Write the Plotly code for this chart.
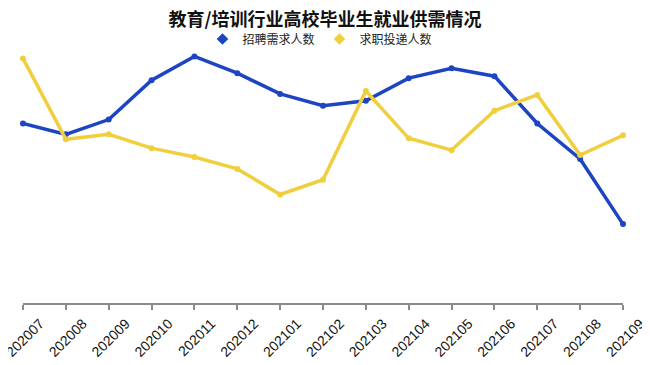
import plotly.graph_objects as go

months = ["202007", "202008", "202009", "202010", "202011", "202012", "202101",
          "202102", "202103", "202104", "202105", "202106", "202107", "202108", "202109"]
demand = [182, 171, 186, 226, 250, 233, 212, 200, 205, 228, 238, 230, 182, 146, 80]
applications = [248, 166, 171, 157, 148, 136, 110, 125, 215, 167, 155, 195, 211, 150, 170]

BLUE = "#1d45c2"
YELLOW = "#f0cf3f"
CJK = "Noto Sans CJK SC"

# page has an 8px body margin; figure is sized to fill the rest of the 650x365 view
W, H, OFF = 642, 357, 8

fig = go.Figure()
for name, vals, col in [("招聘需求人数", demand, BLUE), ("求职投递人数", applications, YELLOW)]:
    fig.add_trace(go.Scatter(x=months, y=vals, name=name, mode="lines+markers",
                             line=dict(color=col, width=3.5), marker=dict(size=6, color=col),
                             cliponaxis=False, showlegend=False))
    fig.add_trace(go.Scatter(x=[None], y=[None], name=name, mode="markers",
                             marker=dict(symbol="diamond", size=9, color=col)))

fig.update_layout(
    width=W, height=H,
    margin=dict(l=23 - OFF, r=W - (623 - OFF), t=50 - OFF, b=H - (303 - OFF)),
    paper_bgcolor="white", plot_bgcolor="white",
    title=dict(text="<b>教育/培训行业高校毕业生就业供需情况</b>", x=(325 - OFF) / W, xanchor="center",
               xref="container",
               y=1 - (19.5 - OFF) / H, yanchor="middle", font=dict(family=CJK, size=18, color="#111")),
    legend=dict(orientation="h", x=(320 - OFF) / W, xanchor="center", xref="container",
                y=1 - (39 - OFF) / H, yref="container", yanchor="middle",
                font=dict(family=CJK, size=12, color="#222"), itemwidth=30,
                bgcolor="rgba(0,0,0,0)"),
    xaxis=dict(type="category", range=[0, 14], showgrid=False, showline=True,
               linecolor="#8a8a8a", linewidth=2, ticks="outside", ticklen=5,
               tickcolor="#8a8a8a", tickwidth=2, tickangle=-45, automargin=False,
               ticklabelshift=17, ticklabelstandoff=0,
               tickfont=dict(family="Liberation Sans", size=14, color="#111"),
               zeroline=False, fixedrange=True),
    yaxis=dict(range=[0, 253], visible=False, showgrid=False, zeroline=False, automargin=False),
    shapes=[dict(type="line", xref="paper", yref="paper", x0=(646 - 23) / 600, x1=(646 - 23) / 600,
                 y0=-(345 - 303) / 253, y1=-(365 - 303) / 253, line=dict(color="#111", width=1.5))],
)

fig.write_html("out.html")
